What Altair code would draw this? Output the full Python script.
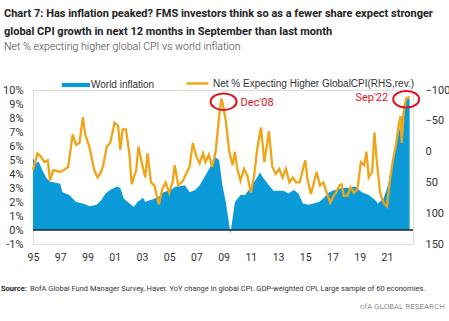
import altair as alt
import pandas as pd

# ---------------- data ----------------
infl_dates = ["1995-01", "1995-04", "1995-06", "1995-09", "1996-01", "1996-04", "1996-08",
              "1997-01", "1997-03", "1997-09", "1998-03", "1998-09", "1999-03", "1999-09",
              "2000-01", "2000-05", "2000-09", "2001-03", "2001-06", "2001-09", "2002-02",
              "2002-06", "2002-09", "2003-02", "2003-04", "2003-07", "2003-11", "2004-04",
              "2004-08", "2005-02", "2005-07", "2005-10", "2006-03", "2006-07", "2006-12",
              "2007-04", "2007-09", "2008-02", "2008-06", "2008-09", "2008-12", "2009-03",
              "2009-06", "2009-07", "2009-09", "2009-11", "2010-04", "2010-08", "2011-02",
              "2011-03", "2011-07", "2011-09", "2012-01", "2012-05", "2012-09", "2013-02",
              "2013-06", "2013-10", "2014-03", "2014-07", "2014-11", "2015-04", "2015-08",
              "2016-01", "2016-05", "2016-10", "2017-03", "2017-09", "2018-03", "2018-09",
              "2019-03", "2019-09", "2020-03", "2020-05", "2020-10", "2021-02", "2021-06",
              "2021-11", "2022-03", "2022-06", "2022-09"]
infl_vals = [5.1, 4.8, 4.9, 4.3, 3.7, 3.45, 3.4,
             3.3, 2.7, 2.5, 2.0, 1.9, 1.7, 1.8,
             2.1, 2.6, 2.85, 3.1, 3.0, 2.25, 1.9,
             1.65, 2.0, 2.3, 2.0, 2.1, 2.2, 2.4,
             2.7, 2.85, 3.1, 3.1, 3.2, 2.7, 2.85,
             3.2, 3.9, 4.6, 5.2, 5.0, 3.2, 2.0,
             0.35, -0.3, 0.85, 2.0, 2.5, 2.5, 3.2,
             3.3, 3.8, 4.1, 3.6, 3.2, 2.8, 2.8,
             2.8, 2.6, 2.85, 2.6, 1.9, 1.8, 1.9,
             2.0, 2.25, 2.7, 2.85, 3.0, 3.0, 3.1,
             2.7, 2.5, 2.1, 1.9, 2.25, 3.2, 4.9,
             6.8, 8.2, 9.3, 9.4]

fms_dates = ["1995-01", "1995-05", "1995-08", "1995-11", "1996-02", "1996-04", "1996-07",
             "1997-01", "1997-04", "1997-08", "1997-12", "1998-03", "1998-06", "1998-09",
             "1998-11", "1999-03", "1999-07", "1999-10", "2000-01", "2000-03", "2000-06",
             "2000-09", "2001-01", "2001-04", "2001-06", "2001-08", "2001-11", "2002-02",
             "2002-04", "2002-08", "2002-10", "2003-01", "2003-04", "2003-06", "2003-09",
             "2003-12", "2004-04", "2004-07", "2004-10", "2005-01", "2005-04", "2005-06",
             "2005-09", "2006-01", "2006-04", "2006-07", "2006-10", "2007-01", "2007-04",
             "2007-07", "2007-09", "2007-12", "2008-03", "2008-06", "2008-09", "2008-11",
             "2008-12", "2009-03", "2009-06", "2009-09", "2009-11", "2010-01", "2010-04",
             "2010-07", "2010-10", "2011-01", "2011-04", "2011-07", "2011-10", "2012-01",
             "2012-05", "2012-08", "2012-11", "2013-02", "2013-05", "2013-08", "2013-11",
             "2014-02", "2014-05", "2014-08", "2014-10", "2015-01", "2015-03", "2015-06",
             "2015-08", "2015-11", "2016-02", "2016-05", "2016-08", "2016-11", "2017-02",
             "2017-04", "2017-07", "2017-09", "2017-11", "2018-02", "2018-05", "2018-08",
             "2018-11", "2019-02", "2019-05", "2019-07", "2019-09", "2019-12", "2020-02",
             "2020-04", "2020-07", "2020-10", "2021-01", "2021-04", "2021-06", "2021-09",
             "2021-11", "2022-01", "2022-02", "2022-04", "2022-06", "2022-09"]
fms_vals = [30, 3, 8, 17, 14, 47, 30,
            33, 30, 25, -28, -11, -14, -56,
            -28, -6, 30, 42, 33, 22, -8,
            -14, -47, -42, -3, -36, -36, 5,
            53, 30, -8, 19, 42, 3, 50,
            55, 86, 61, 50, 67, 50, 22,
            55, 48, 36, 25, -14, 8, 19,
            3, 17, 5, 25, 0, -56, -86,
            -81, -50, 0, 22, 0, 28, 47,
            28, 39, 67, 39, -8, -39, 17,
            -33, 25, 36, 28, 42, 28, 50,
            42, 50, 50, 36, 14, 44, 69,
            55, 33, 55, 50, 67, 83, 72,
            67, 55, 53, 72, 72, 58, 67,
            61, 17, 22, 0, 42, 33, -31,
            14, 67, 83, 89, 42, 17, -11,
            -39, -58, -14, -67, -86, -89]

ann_dates = ["2009-01", "2022-06"]
ann_vals = [-81, -85]
ann_labels = ["Dec'08", "Sep'22"]

left_ticks = [-1, 0, 1, 2, 3, 4, 5, 6, 7, 8, 9, 10]
right_ticks = [-100, -50, 0, 50, 100, 150]
year_ticks = [1995, 1997, 1999, 2001, 2003, 2005, 2007, 2009, 2011, 2013, 2015, 2017, 2019, 2021]

S1 = "World inflation"
S2 = "Net % Expecting Higher GlobalCPI(RHS,rev.)"
TITLE1 = "Chart 7: Has inflation peaked? FMS investors think so as a fewer share expect stronger"
TITLE2 = "global CPI growth in next 12 months in September than last month"
SUBTITLE = "Net % expecting higher global CPI vs world inflation"
SOURCE_B = "Source:"
SOURCE = "BofA Global Fund Manager Survey, Haver. YoY change in global CPI. GDP-weighted CPI, Large sample of 60 economies."
FOOTER = "ofA GLOBAL RESEARCH"

# ---------------- style ----------------
BLUE = "#0b9ad8"
ORANGE = "#f0a418"
RED = "#e0141e"
FONT = "Roboto"
SANS = "Liberation Sans"

W, H = 380, 154
PL, PT = 33, 90

infl = pd.DataFrame({"date": infl_dates, "v": infl_vals, "s": S1})
fms = pd.DataFrame({"date": fms_dates, "v": fms_vals, "s": S2})
ann = pd.DataFrame({"date": ann_dates, "v": ann_vals, "lab": ann_labels})

xscale = alt.Scale(domain=[alt.DateTime(year=1995, month=1, date=1),
                           alt.DateTime(year=2022, month=12, date=1)], nice=False)
xaxis = alt.Axis(values=[alt.DateTime(year=y, month=1, date=1) for y in year_ticks],
                 format="%y", title=None, domain=False, ticks=False, grid=False,
                 labelFlush=False, labelPadding=8, labelFont=FONT, labelFontSize=10.5,
                 labelColor="#333333")
laxis = alt.Axis(orient="left", values=left_ticks, labelExpr="datum.value + '%'",
                 title=None, domain=False, ticks=False, grid=False, labelPadding=10,
                 labelFont=FONT, labelFontSize=11, labelColor="#333333")
raxis = alt.Axis(orient="right", values=right_ticks, title=None, domain=False,
                 ticks=False, grid=False, labelPadding=12, labelFont=FONT,
                 labelFontSize=11, labelColor="#333333")
lscale = alt.Scale(domain=[-1, 10], nice=False, zero=False)
rscale = alt.Scale(domain=[-100, 150], nice=False, zero=False, reverse=True)

X = alt.X("date:T", scale=xscale, axis=xaxis)

area = alt.Chart(infl).mark_area(color=BLUE, opacity=1).encode(
    x=X,
    y=alt.Y("v:Q", scale=lscale, axis=laxis),
    fill=alt.Fill("s:N", scale=alt.Scale(domain=[S1], range=[BLUE]),
                  legend=alt.Legend(title=None, orient="none", legendX=29, legendY=-19,
                                    symbolType="M-1,-0.15H1V0.15H-1Z", symbolSize=784,
                                    symbolStrokeWidth=0, symbolOpacity=1, labelOffset=1,
                                    labelFont=SANS, labelFontSize=10, labelColor="#333333",
                                    labelLimit=0, padding=0)),
)
zero = alt.Chart(alt.Data(values=[{"z": 0}])).mark_rule(
    color="#1b2233", strokeWidth=1.5).encode(y=alt.Y("z:Q", scale=lscale, axis=laxis))

line = alt.Chart(fms).mark_line(color=ORANGE, strokeWidth=2.3).encode(
    x=X,
    y=alt.Y("v:Q", scale=rscale, axis=raxis),
    stroke=alt.Stroke("s:N", scale=alt.Scale(domain=[S2], range=[ORANGE]),
                      legend=alt.Legend(title=None, orient="none", legendX=152, legendY=-19,
                                        symbolType="stroke", symbolSize=484,
                                        symbolStrokeWidth=2.5, labelOffset=3,
                                        labelFont=SANS, labelFontSize=10,
                                        labelColor="#333333", labelLimit=0, padding=0)),
)
RY = alt.Y("v:Q", scale=rscale, axis=raxis)
ell = alt.Chart(ann).mark_point(
    shape="M-1,0A1,0.63,0,1,1,1,0A1,0.63,0,1,1,-1,0Z", size=676, filled=False,
    color=RED, strokeWidth=2, opacity=1
).encode(x=X, y=RY)
lab1 = alt.Chart(ann).mark_text(color=RED, font=FONT, fontSize=11, align="left",
                                baseline="middle", dx=17, dy=1).encode(
    x=X, y=RY, text="lab:N").transform_filter("datum.lab == \"Dec'08\"")
lab2 = alt.Chart(ann).mark_text(color=RED, font=FONT, fontSize=11, align="right",
                                baseline="middle", dx=-18, dy=-1).encode(
    x=X, y=RY, text="lab:N").transform_filter("datum.lab == \"Sep'22\"")


def txt(t, x, y, **kw):
    return alt.Chart(alt.Data(values=[{"t": t}])).mark_text(
        align=kw.pop("align", "left"), baseline="alphabetic", **kw
    ).encode(text="t:N", x=alt.value(x - PL), y=alt.value(y - PT))


texts = [
    txt(TITLE1, 4, 17, font=FONT, fontSize=11, fontWeight="bold", color="#222222"),
    txt(TITLE2, 4, 35, font=FONT, fontSize=11, fontWeight="bold", color="#222222"),
    txt(SUBTITLE, 4, 50, font=FONT, fontSize=10.6, fontWeight=300, color="#444444"),
    txt(SOURCE_B, 1, 291, font=FONT, fontSize=7.5, fontWeight="bold", color="#222222"),
    txt(SOURCE, 30, 291, font=FONT, fontSize=7.5, color="#333333"),
    txt(FOOTER, 445, 309, font=FONT, fontSize=8, fontWeight=300, color="#666666",
        align="right"),
]

left = alt.layer(area, zero)
right = alt.layer(line, ell, lab1, lab2)
chart = alt.layer(left, right, *texts).resolve_scale(y="independent").properties(
    width=W, height=H,
    padding={"left": PL, "top": PT, "right": 449 - PL - W, "bottom": 321 - PT - H},
    autosize=alt.AutoSizeParams(type="none"),
).configure_view(stroke=None).configure(background="white")

chart.save("out.html", embed_options={"renderer": "svg", "actions": False})
